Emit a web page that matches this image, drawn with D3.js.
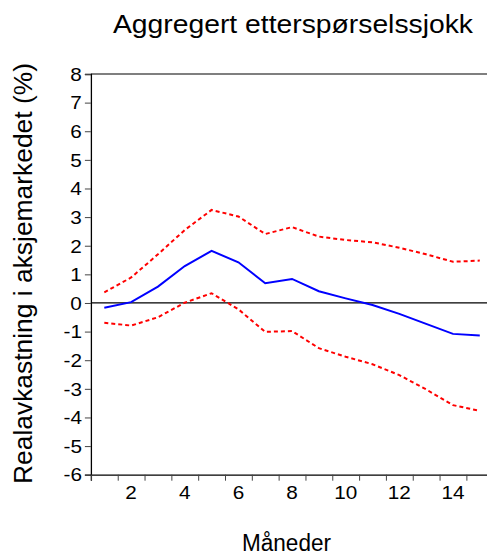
<!DOCTYPE html>
<html>
<head>
<meta charset="utf-8">
<script src="https://cdn.jsdelivr.net/npm/d3@7"></script>
<style>
  html, body { margin: 0; padding: 0; background: #fff; }
  svg { display: block; }
  text { font-family: "Liberation Sans", Arial, sans-serif; fill: #000; }
</style>
</head>
<body>
<svg id="chart" width="487" height="554"></svg>
<script>
// Impulse response: months after the shock
const months = [1, 2, 3, 4, 5, 6, 7, 8, 9, 10, 11, 12, 13, 14, 15];
// Response of real stock returns (%) with upper and lower confidence bands
const response = [-0.17, 0.03, 0.57, 1.29, 1.82, 1.42, 0.69, 0.84, 0.41, 0.16, -0.07, -0.38, -0.73, -1.08, -1.14];
const upperBand = [0.37, 0.89, 1.70, 2.55, 3.25, 3.02, 2.41, 2.65, 2.32, 2.20, 2.12, 1.93, 1.70, 1.44, 1.48];
const lowerBand = [-0.69, -0.79, -0.50, 0.01, 0.34, -0.22, -1.01, -0.98, -1.58, -1.88, -2.14, -2.52, -3.02, -3.57, -3.77];
const yTicks = [-6, -5, -4, -3, -2, -1, 0, 1, 2, 3, 4, 5, 6, 7, 8];
const xLabels = [2, 4, 6, 8, 10, 12, 14];
const xTickPositions = [0.5, 1.5, 2.5, 3.5, 4.5, 5.5, 6.5, 7.5, 8.5, 9.5, 10.5, 11.5, 12.5, 13.5, 14.5, 15.5];

const titleText = "Aggregert etterspørselssjokk";
const yTitle = "Realavkastning i aksjemarkedet (%)";
const xTitle = "Måneder";

const svg = d3.select("#chart");
const plotLeft = 90.9, plotRight = 493.2, plotTop = 74, plotBottom = 474.7;

const x = d3.scaleLinear().domain([0.5, 15.5]).range([plotLeft, plotRight]);
const y = d3.scaleLinear().domain([-6, 8]).range([plotBottom, plotTop]);

// widen glyphs horizontally to the wide typeface look
function stretch(sel, factor) {
  sel.each(function () {
    const w = this.getComputedTextLength();
    d3.select(this).attr("textLength", w * factor).attr("lengthAdjust", "spacingAndGlyphs");
  });
}

// frame: top edge
svg.append("line")
  .attr("x1", plotLeft).attr("x2", plotRight).attr("y1", plotTop).attr("y2", plotTop)
  .attr("stroke", "#000").attr("stroke-width", 1.2);

// y axis
const yAxis = svg.append("g").attr("transform", `translate(${plotLeft},0)`)
  .call(d3.axisLeft(y).tickValues(yTicks).tickFormat(d3.format("d")).tickSize(6).tickPadding(3));
yAxis.select(".domain").attr("stroke", "#000").attr("stroke-width", 1.3);
yAxis.selectAll(".tick line").attr("stroke", "#444").attr("stroke-width", 1);
yAxis.selectAll(".tick text")
  .attr("font-size", 18.5).attr("font-family", "Liberation Sans, Arial, sans-serif")
  .attr("fill", "#000").attr("dy", "0.34em")
  .text(d => d < 0 ? "-" + Math.abs(d) : d);
stretch(yAxis.selectAll(".tick text"), 1.12);

// x axis: ticks between periods, labels on periods
const xAxis = svg.append("g").attr("transform", `translate(0,${plotBottom})`)
  .call(d3.axisBottom(x).tickValues(xTickPositions).tickFormat("").tickSize(6));
xAxis.select(".domain").attr("stroke", "#000").attr("stroke-width", 1.3);
xAxis.selectAll(".tick line").attr("stroke", "#444").attr("stroke-width", 1);

svg.append("g").selectAll("text").data(xLabels).join("text")
  .attr("x", d => x(d)).attr("y", 499.3)
  .attr("text-anchor", "middle").attr("font-size", 18.5)
  .text(d => d)
  .call(s => stretch(s, 1.12));

// zero reference line
svg.append("line")
  .attr("x1", plotLeft).attr("x2", plotRight).attr("y1", y(0)).attr("y2", y(0))
  .attr("stroke", "#000").attr("stroke-width", 1.2);

const line = d3.line().x((d, i) => x(months[i])).y(d => y(d));

svg.append("path").datum(upperBand)
  .attr("d", line).attr("fill", "none")
  .attr("stroke", "#ff0000").attr("stroke-width", 2).attr("stroke-dasharray", "4,3");
svg.append("path").datum(lowerBand)
  .attr("d", line).attr("fill", "none")
  .attr("stroke", "#ff0000").attr("stroke-width", 2).attr("stroke-dasharray", "4,3");
svg.append("path").datum(response)
  .attr("d", line).attr("fill", "none")
  .attr("stroke", "#0000ff").attr("stroke-width", 2);

// titles
svg.append("text")
  .attr("x", 113).attr("y", 33.3).attr("font-size", 25.5)
  .attr("textLength", 360).attr("lengthAdjust", "spacingAndGlyphs")
  .text(titleText);

svg.append("text")
  .attr("transform", "translate(32,484) rotate(-90)")
  .attr("font-size", 26)
  .attr("textLength", 421).attr("lengthAdjust", "spacingAndGlyphs")
  .text(yTitle);

svg.append("text")
  .attr("x", 242).attr("y", 551).attr("font-size", 23)
  .attr("textLength", 89).attr("lengthAdjust", "spacingAndGlyphs")
  .text(xTitle);
</script>
</body>
</html>
